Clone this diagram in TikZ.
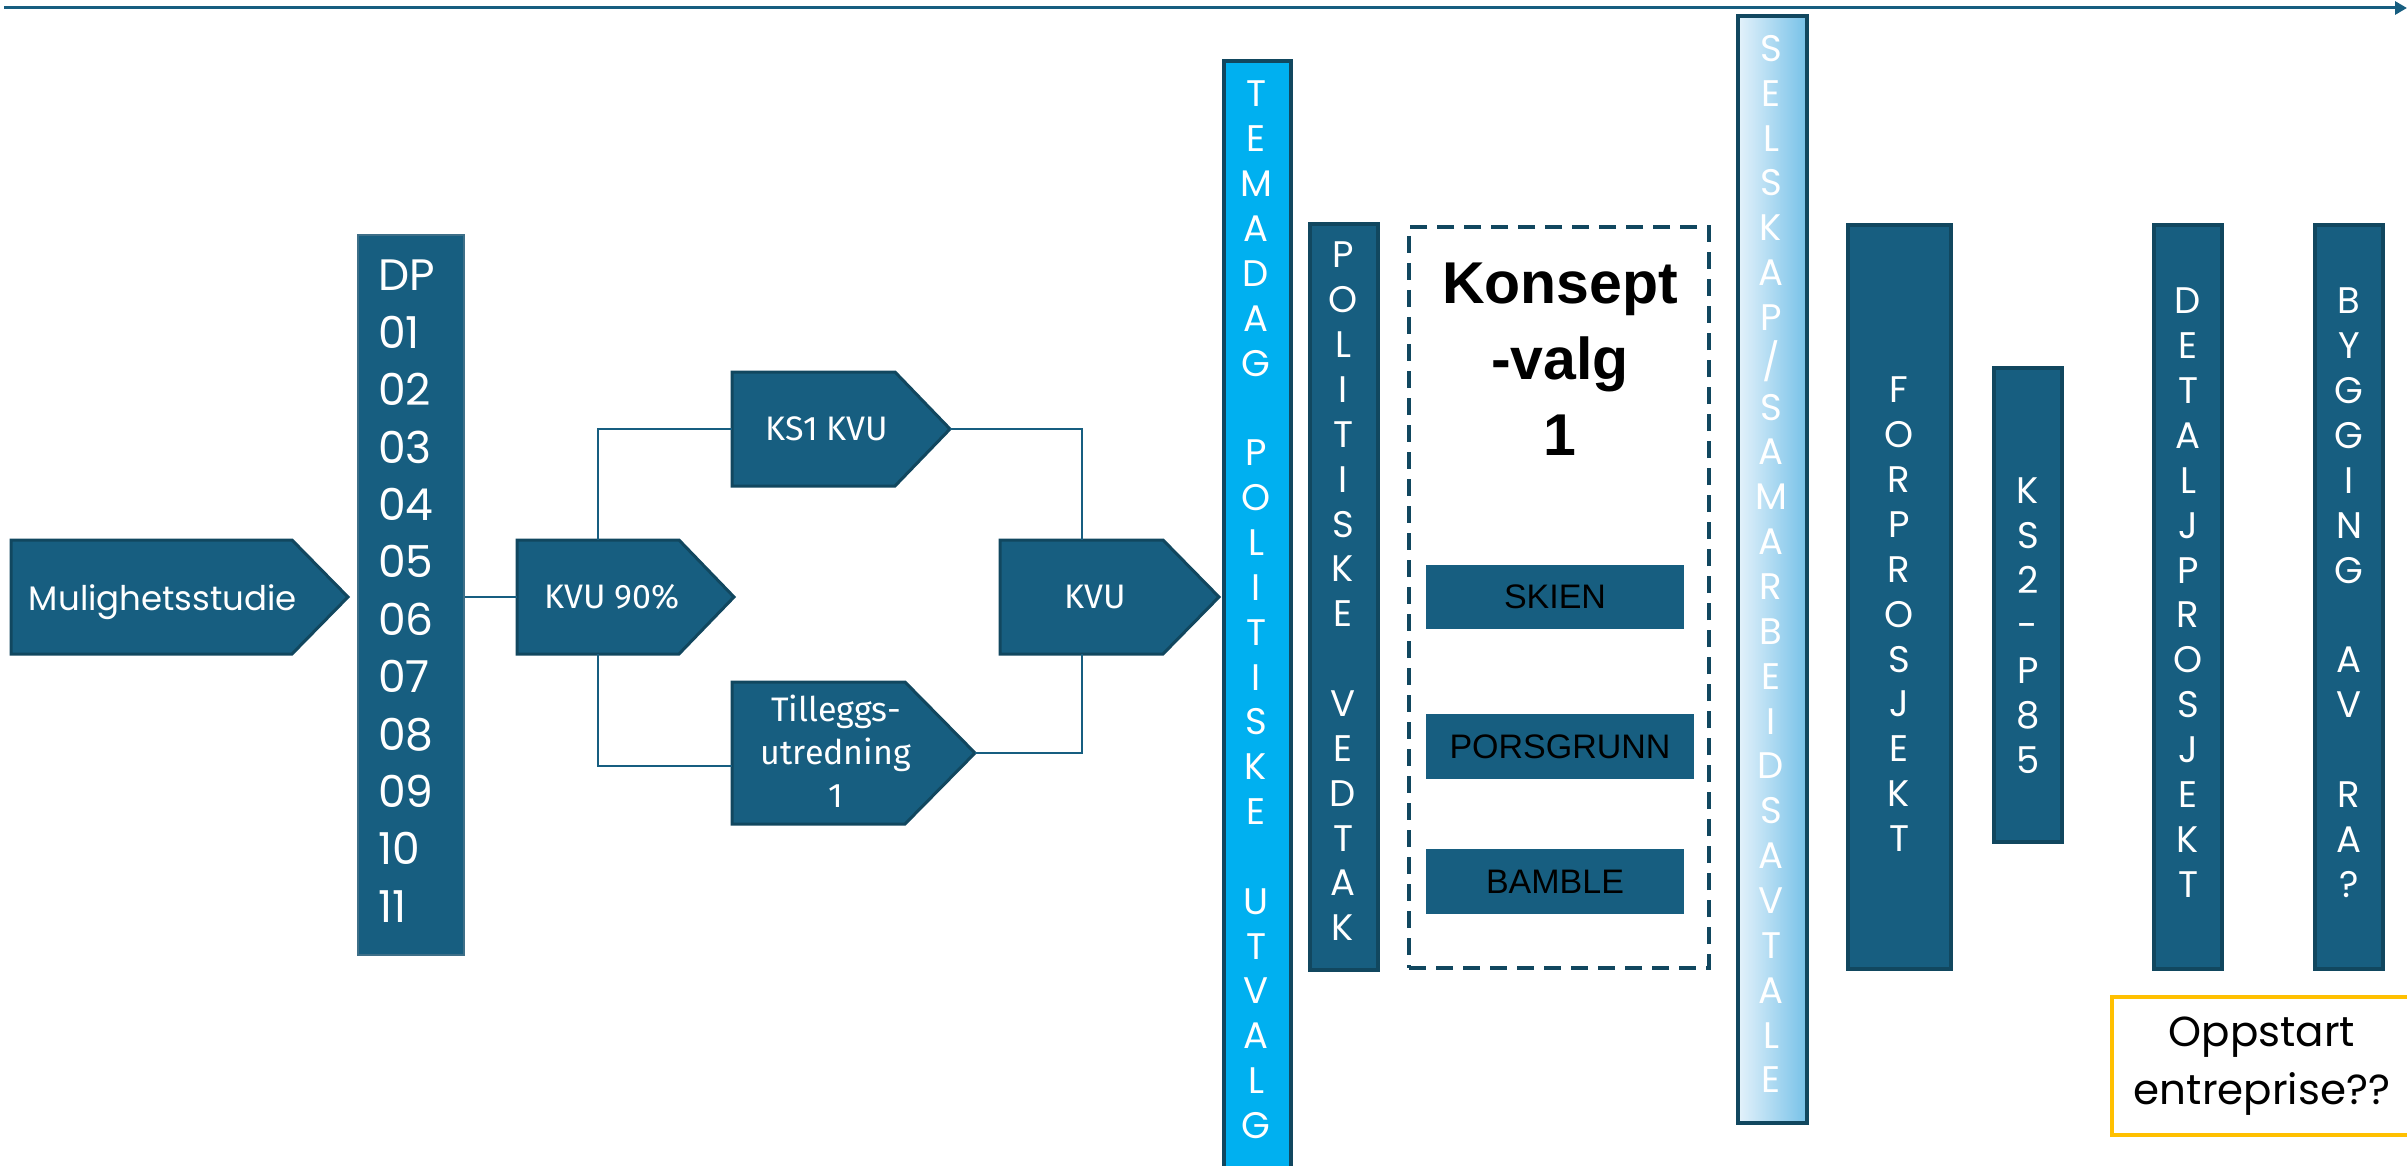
\documentclass[tikz,border=0pt]{standalone}
\usepackage{fontspec}
\setmainfont{Liberation Sans}
\newfontfamily\geo{Poppins}
\newfontfamily\fira{Fira Sans}
\usetikzlibrary{arrows.meta,calc}
\definecolor{dteal}{HTML}{175E80}
\definecolor{dborder}{HTML}{11475F}
\definecolor{cyanb}{HTML}{00B0F0}
\definecolor{lightb}{HTML}{E4F2FB}
\definecolor{midb}{HTML}{76C1E8}
\definecolor{gold}{HTML}{FFC000}
\definecolor{dpedge}{HTML}{3E6F88}
\begin{document}
\begin{tikzpicture}[x=1pt,y=-1pt,
  rectpart/.style={rectangle,inner sep=0pt,outer sep=0pt},
  pentshape/.style={fill=dteal,draw=dborder,line width=3pt,line join=miter},
  ptext/.style={text=white,inner sep=0pt,anchor=base,font=\fira\fontsize{34}{43}\selectfont},
  conn/.style={draw=dteal,line width=2pt},
  col/.style={rectangle,fill=dteal,draw=dborder,line width=3.5pt,inner sep=0pt},
  vlet/.style={text=white,font=\geo\fontsize{37}{44.85}\selectfont,align=center,inner sep=0pt,anchor=north},
  city/.style={rectangle,fill=dteal,inner sep=0pt,text=black,font=\fontsize{34}{40}\selectfont},
]
\useasboundingbox (0,0) rectangle (2407,1166);

% top time arrow
\coordinate (tstart) at (4,8);
\coordinate (tend) at (2407,8);
\draw[draw=dteal,line width=3pt,-{Triangle[length=12pt,width=13pt]}] (tstart) -- (tend);

% Mulighetsstudie
\node[rectpart,minimum width=281,minimum height=114] (mul) at (151.5,597) {};
\draw[pentshape] (mul.north west) -- (mul.north east) -- ($(mul.east)+(56,0)$) -- (mul.south east) -- (mul.south west) -- cycle;
\node[ptext,font=\geo\fontsize{34}{40}\selectfont] (mult) at (163,610) {Mulighetsstudie};

% DP list
\node[rectangle,fill=dteal,draw=dpedge,line width=2pt,minimum width=106,minimum height=720,inner sep=0pt] (dp) at (411,595) {};
\node[text=white,inner sep=0pt,anchor=north west,align=left,font=\geo\fontsize{44}{57.4}\selectfont] (dpt) at (378,260)
  {DP\\01\\02\\03\\04\\05\\06\\07\\08\\09\\10\\11};

% KVU 90%
\node[rectpart,minimum width=162,minimum height=114] (kvu90) at (598,597) {};
\draw[pentshape] (kvu90.north west) -- (kvu90.north east) -- ($(kvu90.east)+(55,0)$) -- (kvu90.south east) -- (kvu90.south west) -- cycle;
\node[ptext] (kvu90t) at (612,608.5) {KVU 90\%};

% KS1 KVU
\node[rectpart,minimum width=163,minimum height=114] (ks1) at (813.5,429) {};
\draw[pentshape] (ks1.north west) -- (ks1.north east) -- ($(ks1.east)+(55,0)$) -- (ks1.south east) -- (ks1.south west) -- cycle;
\coordinate (ks1tip) at ($(ks1.east)+(55,0)$);
\node[ptext] (ks1t) at (827,440.5) {KS1 KVU};

% Tilleggsutredning
\node[rectpart,minimum width=173,minimum height=142] (till) at (818.5,753) {};
\draw[pentshape] (till.north west) -- (till.north east) -- ($(till.east)+(70,0)$) -- (till.south east) -- (till.south west) -- cycle;
\coordinate (tilltip) at ($(till.east)+(70,0)$);
\node[ptext,anchor=north,align=center] (tillt) at (836,695) {Tilleggs-\\utredning\\1};

% KVU
\node[rectpart,minimum width=163,minimum height=114] (kvu) at (1081.5,597) {};
\draw[pentshape] (kvu.north west) -- (kvu.north east) -- ($(kvu.east)+(56,0)$) -- (kvu.south east) -- (kvu.south west) -- cycle;
\node[ptext] (kvut) at (1095.5,608.5) {KVU};

% connectors
\draw[conn] (dp.east |- kvu90.west) -- (kvu90.west);
\draw[conn] (kvu90.north) |- (ks1.west);
\draw[conn] (kvu90.south) |- ([yshift=-13pt]till.west);
\draw[conn] (ks1tip) -| (kvu.north);
\draw[conn] (tilltip) -| (kvu.south);

% TEMADAG POLITISKE UTVALG
\node[col,fill=cyanb,minimum width=67,minimum height=1125] (tema) at (1257.5,623.5) {};
\node[vlet] (temat) at (1256,81) {T\\E\\M\\A\\D\\A\\G\\\mbox{}\\P\\O\\L\\I\\T\\I\\S\\K\\E\\\mbox{}\\U\\T\\V\\A\\L\\G};

% POLITISKE VEDTAK
\node[col,minimum width=68,minimum height=746] (pol) at (1344,597) {};
\node[vlet] (polt) at (1343,242) {P\\O\\L\\I\\T\\I\\S\\K\\E\\\mbox{}\\V\\E\\D\\T\\A\\K};

% Konseptvalg
\node[rectangle,draw=dborder,line width=3.5pt,dash pattern=on 17pt off 10pt,minimum width=300,minimum height=741,inner sep=0pt] (kons) at (1559,597.5) {};
\node[inner sep=0pt,anchor=north,align=center,font=\bfseries\fontsize{59}{76}\selectfont] (konst) at (1560,263) {Konsept\\-valg\\1};
\node[city,minimum width=258,minimum height=64] (skien) at (1555,597) {SKIEN};
\node[city,minimum width=268,minimum height=65] (porsg) at (1560,746.5) {PORSGRUNN};
\node[city,minimum width=258,minimum height=65] (bamble) at (1555,881.5) {BAMBLE};

% SELSKAP/SAMARBEIDSAVTALE
\node[col,left color=lightb,right color=midb,minimum width=69,minimum height=1107] (sels) at (1772.5,569.5) {};
\node[vlet] (selst) at (1771,35) {S\\E\\L\\S\\K\\A\\P\\/\\S\\A\\M\\A\\R\\B\\E\\I\\D\\S\\A\\V\\T\\A\\L\\E};

% FORPROSJEKT
\node[col,minimum width=103,minimum height=744] (forp) at (1899.5,597) {};
\node[vlet] (forpt) at (1899,377) {F\\O\\R\\P\\R\\O\\S\\J\\E\\K\\T};

% KS2-P85
\node[col,minimum width=68,minimum height=474] (ks2) at (2028,605) {};
\node[vlet] (ks2t) at (2028,478) {K\\S\\2\\-\\P\\8\\5};

% DETALJPROSJEKT
\node[col,minimum width=68,minimum height=744] (detp) at (2188,597) {};
\node[vlet] (detpt) at (2188,288) {D\\E\\T\\A\\L\\J\\P\\R\\O\\S\\J\\E\\K\\T};

% BYGGING AV RA?
\node[col,minimum width=68,minimum height=744] (bygg) at (2349,597) {};
\node[vlet] (byggt) at (2349,288) {B\\Y\\G\\G\\I\\N\\G\\\mbox{}\\A\\V\\\mbox{}\\R\\A\\?};

% Oppstart entreprise??
\node[rectangle,draw=gold,line width=3.5pt,minimum width=300,minimum height=138,inner sep=0pt,align=center,font=\geo\fontsize{42}{58}\selectfont] (opp) at (2262,1066) {Oppstart\\entreprise??};
\end{tikzpicture}
\end{document}
